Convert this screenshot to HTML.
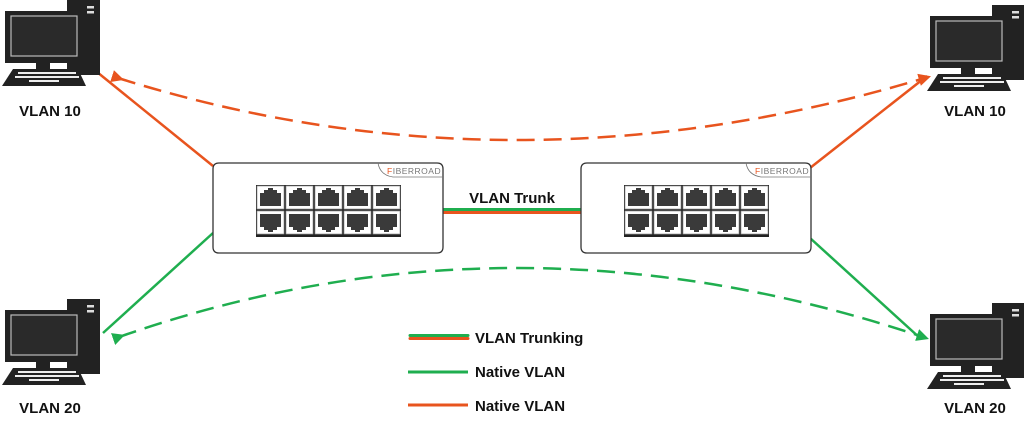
<!DOCTYPE html>
<html><head><style>body{margin:0;background:#fff}svg{display:block}</style></head><body>
<svg width="1024" height="429" viewBox="0 0 1024 429" xmlns="http://www.w3.org/2000/svg" font-family="Liberation Sans, sans-serif">
<defs>
<g id="pc">
<rect x="67" y="0" width="33" height="75" fill="#222"/>
<rect x="87" y="6" width="7" height="2.5" fill="#ddd"/><rect x="87" y="11" width="7" height="2.5" fill="#ddd"/>
<rect x="5" y="11" width="77" height="52" fill="#222"/>
<rect x="11" y="16" width="66" height="40" fill="#2a2a2a" stroke="#bbb" stroke-width="1.2"/>
<rect x="36" y="63" width="14" height="6" fill="#222"/>
<polygon points="13,69 78,69 86,86 2,86" fill="#222"/>
<g fill="#eee">
<rect x="18" y="72" width="58" height="2"/><rect x="15" y="76" width="64" height="2"/><rect x="29" y="80" width="30" height="2"/>
</g>
</g>
<g id="port"><rect width="27" height="23" fill="#fff" stroke="#999" stroke-width="0.7"/><path d="M3,20 V7 H7 V4 H11 V2 H16 V4 H20 V7 H24 V20 Z" fill="#3a3a3a"/></g>
<g id="sw">
<path d="M6,0 H224 Q230,0 230,6 V84 Q230,90 224,90 H6 Q0,90 0,84 V6 Q0,0 6,0 Z" fill="#fff" stroke="#333" stroke-width="1.3"/>
<path d="M165,0 Q167,12 180,14 H230" fill="none" stroke="#777" stroke-width="0.8"/>
<text x="174" y="11" font-size="8.5" fill="#777" letter-spacing="0.5"><tspan fill="#e8541e">F</tspan>IBERROAD</text>
<rect x="43" y="22" width="145" height="52" fill="#222"/>
<use href="#port" x="44" y="23"/><use href="#port" x="73" y="23"/><use href="#port" x="102" y="23"/><use href="#port" x="131" y="23"/><use href="#port" x="160" y="23"/>
<g transform="translate(0,94) scale(1,-1)">
<use href="#port" x="44" y="23"/><use href="#port" x="73" y="23"/><use href="#port" x="102" y="23"/><use href="#port" x="131" y="23"/><use href="#port" x="160" y="23"/>
</g>
</g>
<marker id="ao" viewBox="0 0 10 10" refX="5" refY="5" markerWidth="5" markerHeight="5" orient="auto"><path d="M0,0 L10,5 L0,10 z" fill="#e8541e"/></marker>
<marker id="ag" viewBox="0 0 10 10" refX="5" refY="5" markerWidth="5" markerHeight="5" orient="auto"><path d="M0,0 L10,5 L0,10 z" fill="#1fae4f"/></marker>
</defs>
<g stroke-width="2.5" fill="none">
<line x1="213" y1="166" x2="97" y2="72" stroke="#e8541e"/>
<line x1="810" y1="168" x2="927" y2="76" stroke="#e8541e"/>
<line x1="213" y1="233" x2="103" y2="333" stroke="#1fae4f"/>
<line x1="810" y1="238" x2="921" y2="339" stroke="#1fae4f"/>
<path d="M118,78 Q512,202 925,78" stroke="#e8541e" stroke-dasharray="18,9" marker-start="url(#ao)" marker-end="url(#ao)"/>
<path d="M119,337 Q512,199 923,337" stroke="#1fae4f" stroke-dasharray="18,9" marker-start="url(#ag)" marker-end="url(#ag)"/>
<line x1="442" y1="209.5" x2="581" y2="209.5" stroke="#1fae4f" stroke-width="3"/>
<line x1="442" y1="212.5" x2="581" y2="212.5" stroke="#e8541e" stroke-width="3"/>
<line x1="410" y1="335.5" x2="468" y2="335.5" stroke="#1fae4f" stroke-width="3" stroke-linecap="round"/>
<line x1="410" y1="338.5" x2="468" y2="338.5" stroke="#e8541e" stroke-width="3" stroke-linecap="round"/>
<line x1="408" y1="372" x2="468" y2="372" stroke="#1fae4f" stroke-width="3"/>
<line x1="408" y1="405" x2="468" y2="405" stroke="#e8541e" stroke-width="3"/>
</g>
<use href="#sw" x="213" y="163"/>
<use href="#sw" x="581" y="163"/>
<use href="#pc" x="0" y="0"/>
<use href="#pc" x="925" y="5"/>
<use href="#pc" x="0" y="299"/>
<use href="#pc" x="925" y="303"/>
<g font-weight="bold" font-size="15" fill="#111" text-anchor="middle">
<text x="50" y="116">VLAN 10</text>
<text x="975" y="116">VLAN 10</text>
<text x="50" y="413">VLAN 20</text>
<text x="975" y="413">VLAN 20</text>
<text x="512" y="203">VLAN Trunk</text>
</g>
<g font-weight="bold" font-size="15" fill="#111">
<text x="475" y="343">VLAN Trunking</text>
<text x="475" y="377">Native VLAN</text>
<text x="475" y="411">Native VLAN</text>
</g>
</svg>
</body></html>
